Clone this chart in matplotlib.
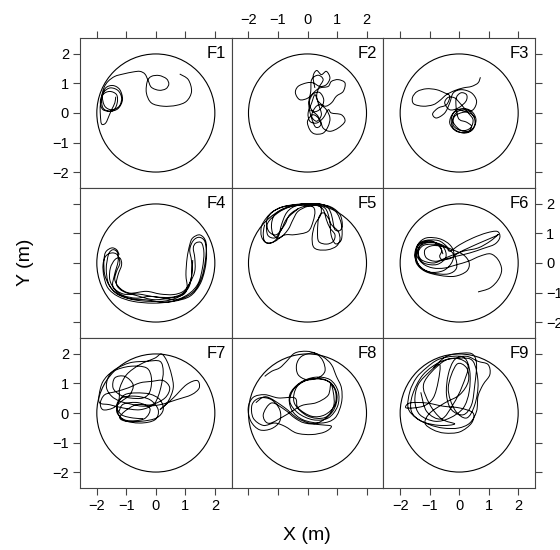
import matplotlib
matplotlib.use("Agg")
import matplotlib.pyplot as plt
from matplotlib.path import Path
from matplotlib.patches import PathPatch, Circle

plt.rcParams['font.family'] = ['Liberation Sans', 'DejaVu Sans']

# arena radius (m) and tick values
arena_r = 2.0
ticks = [-2, -1, 0, 1, 2]
panel_names = ['F1', 'F2', 'F3', 'F4', 'F5', 'F6', 'F7', 'F8', 'F9']

# trajectory waypoints (x, y) in metres
f1 = [(0.81, 1.32), (1.10, 1.13), (1.21, 0.73), (1.04, 0.40), (0.70, 0.26), (0.25, 0.23),
      (-0.15, 0.34), (-0.32, 0.68), (-0.29, 1.07), (-0.15, 1.24), (0.11, 1.27), (0.36, 1.16),
      (0.44, 0.98), (0.34, 0.82), (0.11, 0.77), (-0.15, 0.87), (-0.26, 1.10), (-0.37, 1.32),
      (-0.54, 1.41), (-0.77, 1.39), (-1.11, 1.32), (-1.39, 1.24), (-1.62, 1.07), (-1.76, 0.85),
      (-1.84, 0.51), (-1.79, 0.17), (-1.56, 0.06), (-1.28, 0.15), (-1.13, 0.45), (-1.22, 0.79),
      (-1.45, 0.93), (-1.70, 0.85), (-1.81, 0.56), (-1.73, 0.23), (-1.50, 0.11), (-1.24, 0.23),
      (-1.16, 0.51), (-1.28, 0.76), (-1.54, 0.85), (-1.76, 0.71), (-1.88, 0.40), (-1.79, 0.11),
      (-1.45, 0.08), (-1.31, 0.34), (-1.33, 0.62), (-1.56, 0.73), (-1.79, 0.62), (-1.88, 0.28),
      (-1.88, -0.06), (-1.84, -0.37), (-1.70, -0.34), (-1.58, -0.08), (-1.50, 0.11), (-1.39, 0.34),
      (-1.36, 0.55)]
f2 = [(0.25, 0.85), (0.19, 1.24), (0.31, 1.44), (0.47, 1.30), (0.64, 1.41), (0.76, 1.19),
      (0.64, 0.96), (0.42, 0.90), (0.19, 1.02), (-0.03, 1.02), (-0.32, 0.90), (-0.41, 0.68),
      (-0.26, 0.45), (0.02, 0.51), (0.25, 0.73), (0.42, 0.85), (0.70, 0.90), (0.81, 1.07),
      (1.04, 1.13), (1.27, 1.02), (1.21, 0.73), (0.98, 0.57), (0.81, 0.34), (0.59, 0.23),
      (0.36, 0.40), (0.25, 0.62), (0.14, 0.34), (0.02, 0.00), (0.08, -0.28), (0.31, -0.34),
      (0.53, -0.17), (0.70, 0.11), (0.81, 0.00), (1.15, -0.06), (1.27, -0.28), (1.04, -0.51),
      (0.76, -0.62), (0.53, -0.51), (0.42, -0.23), (0.19, -0.06), (0.00, -0.28), (0.08, -0.57),
      (0.25, -0.71), (0.53, -0.68), (0.70, -0.45), (0.76, -0.17), (0.64, 0.11), (0.42, 0.28),
      (0.25, 0.17), (0.14, -0.11), (0.31, -0.28), (0.47, -0.06), (0.38, 0.28), (0.31, 0.57),
      (0.38, 0.85), (0.53, 1.13), (0.36, 1.28), (0.14, 1.13), (0.11, 0.73), (0.05, 0.34),
      (0.20, 0.05), (0.45, 0.15), (0.55, 0.45), (0.40, 0.70), (0.15, 0.60), (0.05, 0.20),
      (0.25, -0.45), (0.45, -0.40), (0.35, -0.10), (0.10, 0.10)]
f3 = [(0.72, 1.21), (0.64, 1.02), (0.42, 0.90), (0.14, 0.85), (-0.15, 0.76), (-0.43, 0.62),
      (-0.66, 0.42), (-0.88, 0.28), (-1.22, 0.23), (-1.54, 0.31), (-1.58, 0.53), (-1.42, 0.73),
      (-1.11, 0.82), (-0.77, 0.79), (-0.49, 0.68), (-0.32, 0.57), (-0.43, 0.28), (-0.71, 0.17),
      (-0.90, -0.03), (-0.77, -0.17), (-0.49, 0.00), (-0.32, 0.34), (-0.20, 0.68), (0.08, 0.79),
      (0.42, 0.68), (0.59, 0.40), (0.47, 0.11), (0.19, 0.06), (-0.09, 0.11), (-0.26, -0.17),
      (-0.20, -0.51), (0.14, -0.68), (0.45, -0.57), (0.57, -0.23), (0.42, 0.06), (0.11, 0.15),
      (-0.20, 0.00), (-0.32, -0.34), (-0.09, -0.62), (0.31, -0.64), (0.53, -0.40), (0.47, -0.08),
      (0.19, 0.03), (-0.15, -0.11), (-0.20, -0.42), (0.08, -0.60), (0.38, -0.51), (0.47, -0.23),
      (0.31, 0.00), (0.02, 0.34), (-0.15, 0.51), (-0.37, 0.53), (-0.49, 0.34), (-0.32, 0.11),
      (-0.03, 0.17), (0.23, 0.40), (0.25, 0.62), (0.05, 0.68), (-0.11, 0.45), (-0.03, -0.17),
      (0.25, -0.31), (0.42, -0.45), (0.30, -0.62), (0.00, -0.55), (-0.22, -0.25), (-0.05, 0.05),
      (0.30, 0.10), (0.52, -0.15)]
f4 = [(-1.24, 0.28), (-1.33, 0.45), (-1.50, 0.51), (-1.70, 0.37), (-1.76, 0.06), (-1.73, -0.40),
      (-1.56, -0.79), (-1.28, -1.07), (-0.77, -1.24), (-0.20, -1.30), (0.36, -1.28), (0.81, -1.13),
      (1.10, -0.85), (1.21, -0.45), (1.21, 0.06), (1.15, 0.45), (1.27, 0.76), (1.47, 0.87),
      (1.66, 0.73), (1.72, 0.28), (1.66, -0.23), (1.49, -0.73), (1.15, -1.13), (0.59, -1.30),
      (-0.09, -1.36), (-0.77, -1.30), (-1.28, -1.13), (-1.62, -0.85), (-1.76, -0.45), (-1.79, -0.06),
      (-1.70, 0.23), (-1.50, 0.34), (-1.31, 0.28), (-1.22, 0.00), (-1.33, -0.28), (-1.39, -0.57),
      (-1.22, -0.85), (-0.88, -1.02), (-0.32, -0.96), (0.14, -1.05), (0.59, -1.07), (0.93, -0.96),
      (1.15, -0.68), (1.32, -0.28), (1.32, 0.17), (1.27, 0.51), (1.36, 0.68), (1.55, 0.68),
      (1.63, 0.34), (1.58, -0.17), (1.44, -0.68), (1.15, -1.02), (0.70, -1.24), (0.25, -1.19),
      (-0.20, -1.13), (-0.66, -1.19), (-1.11, -1.10), (-1.39, -0.90), (-1.56, -0.57), (-1.54, -0.17),
      (-1.39, 0.11), (-1.22, 0.17), (-1.16, -0.06), (-1.28, -0.40), (-1.33, -0.73), (-1.11, -0.96),
      (-0.66, -1.10), (-0.09, -1.24), (0.47, -1.19), (0.93, -1.07), (1.06, -0.82), (1.02, -0.40),
      (1.06, 0.17), (1.15, 0.62), (1.25, 0.85), (1.50, 0.95), (1.70, 0.70), (1.68, 0.10),
      (1.55, -0.50), (1.30, -0.95), (0.90, -1.20), (0.30, -1.33), (-0.30, -1.25), (-0.90, -1.20),
      (-1.35, -1.00), (-1.60, -0.70), (-1.68, -0.20), (-1.60, 0.30), (-1.45, 0.45), (-1.30, 0.35),
      (-1.28, 0.05), (-1.40, -0.40), (-1.45, -0.80), (-1.10, -1.05), (-0.60, -1.05), (0.00, -1.15),
      (0.60, -1.15), (1.00, -0.95), (1.20, -0.50), (1.25, 0.10)]
f5 = [(-1.45, 1.30), (-1.50, 1.02), (-1.45, 0.73), (-1.22, 0.68), (-0.99, 0.90), (-0.88, 1.30),
      (-0.71, 1.70), (-0.43, 1.92), (0.02, 2.00), (0.47, 1.98), (0.70, 1.86), (0.81, 1.64),
      (0.87, 1.36), (0.93, 1.13), (1.10, 1.10), (1.18, 1.30), (1.10, 1.64), (0.81, 1.89),
      (0.36, 2.00), (-0.20, 2.00), (-0.77, 1.92), (-1.16, 1.75), (-1.39, 1.53), (-1.56, 1.24),
      (-1.56, 0.90), (-1.39, 0.68), (-1.11, 0.73), (-0.88, 0.90), (-0.71, 0.96), (-0.43, 0.96),
      (0.02, 1.07), (0.19, 1.41), (0.25, 1.75), (0.14, 1.92), (-0.32, 1.95), (-0.77, 1.86),
      (-1.11, 1.64), (-1.22, 1.30), (-1.16, 0.96), (-0.94, 0.85), (-0.66, 1.13), (-0.49, 1.47),
      (-0.32, 1.75), (0.02, 1.92), (0.42, 1.92), (0.45, 1.64), (0.25, 1.30), (0.16, 0.90),
      (0.19, 0.57), (0.36, 0.45), (0.70, 0.45), (0.98, 0.57), (1.10, 0.79), (1.04, 1.07),
      (0.81, 1.30), (0.70, 1.53), (0.53, 1.70), (0.38, 1.53), (0.34, 1.07), (0.38, 0.73),
      (0.64, 0.64), (0.87, 0.73), (0.93, 0.96), (0.76, 1.19), (0.64, 1.47), (0.53, 1.81),
      (0.25, 1.98), (-0.32, 1.98), (-0.88, 1.89), (-1.22, 1.70), (-1.39, 1.41), (-1.31, 1.07),
      (-1.05, 0.96), (-0.77, 1.30), (-0.60, 1.64), (-0.20, 1.89), (0.25, 1.95), (0.60, 1.85),
      (0.75, 1.45), (0.80, 0.95), (0.95, 0.65), (1.15, 0.80), (1.15, 1.30), (0.95, 1.75),
      (0.50, 1.98), (-0.10, 2.00), (-0.60, 1.90), (-1.00, 1.70), (-1.35, 1.35), (-1.35, 0.95),
      (-1.10, 0.85), (-0.90, 1.10), (-0.70, 1.50), (-0.30, 1.85)]
f6 = [(0.64, -0.98), (1.04, -0.85), (1.32, -0.57), (1.44, -0.23), (1.32, 0.11), (1.06, 0.31),
      (0.70, 0.23), (0.31, 0.06), (-0.09, -0.06), (-0.49, -0.17), (-0.88, -0.17), (-1.22, -0.03),
      (-1.45, 0.28), (-1.39, 0.64), (-1.11, 0.85), (-0.66, 0.82), (-0.32, 0.62), (-0.18, 0.34),
      (-0.26, 0.00), (-0.54, -0.26), (-0.99, -0.31), (-1.33, -0.11), (-1.50, 0.23), (-1.42, 0.59),
      (-1.16, 0.76), (-0.71, 0.76), (-0.43, 0.57), (-0.32, 0.40), (0.02, 0.62), (0.47, 0.85),
      (0.93, 1.02), (1.29, 1.07), (1.38, 0.87), (1.21, 0.64), (0.81, 0.49), (0.36, 0.34),
      (-0.09, 0.23), (-0.54, 0.11), (-0.88, 0.00), (-1.28, 0.11), (-1.39, 0.40), (-1.22, 0.68),
      (-0.77, 0.68), (-0.32, 0.49), (0.14, 0.28), (0.34, 0.00), (0.25, -0.28), (-0.15, -0.45),
      (-0.66, -0.42), (-1.16, -0.28), (-1.45, 0.00), (-1.47, 0.40), (-1.28, 0.68), (-0.88, 0.73),
      (-0.60, 0.45), (-0.66, 0.23), (-0.56, 0.11), (-0.26, 0.17), (-0.03, 0.34), (0.36, 0.53),
      (0.81, 0.73), (1.21, 0.90), (1.32, 0.96), (1.04, 0.73), (0.64, 0.51), (0.14, 0.40),
      (-0.32, 0.23), (-0.77, 0.06), (-1.11, 0.17), (-1.16, 0.45), (-0.88, 0.59), (-0.43, 0.51),
      (-0.15, 0.23), (-0.09, -0.17), (-0.37, -0.37), (-0.88, -0.34), (-1.28, -0.17), (-1.45, 0.15),
      (-1.35, 0.55), (-0.95, 0.70), (-0.55, 0.55), (-0.45, 0.20), (-0.75, -0.05), (-1.20, 0.00),
      (-1.40, 0.30), (-1.20, 0.60), (-0.70, 0.60), (-0.55, 0.30)]
f7 = [(-0.43, -0.19), (-0.77, -0.17), (-1.16, -0.06), (-1.33, 0.23), (-1.16, 0.51), (-0.71, 0.57),
      (-0.20, 0.45), (0.08, 0.11), (-0.03, -0.23), (-0.54, -0.34), (-1.11, -0.23), (-1.31, 0.11),
      (-1.24, 0.51), (-1.22, 0.85), (-0.99, 1.30), (-0.54, 1.64), (-0.03, 1.86), (0.19, 2.00),
      (0.38, 1.75), (0.53, 1.30), (0.59, 0.85), (0.42, 0.40), (0.14, 0.11), (0.59, 0.51),
      (1.04, 0.96), (1.40, 1.10), (1.47, 0.85), (1.21, 0.62), (0.70, 0.45), (0.14, 0.28),
      (-0.43, 0.23), (-0.88, 0.31), (-1.22, 0.40), (-1.50, 0.57), (-1.67, 0.85), (-1.62, 1.19),
      (-1.39, 1.47), (-0.88, 1.70), (-0.32, 1.75), (0.14, 1.75), (0.25, 1.41), (0.19, 0.96),
      (0.08, 0.57), (-0.09, 0.28), (-0.54, 0.11), (-1.11, 0.17), (-1.56, 0.28), (-1.90, 0.34),
      (-1.92, 0.62), (-1.79, 1.07), (-1.45, 1.41), (-0.88, 1.58), (-0.32, 1.53), (-0.15, 1.19),
      (-0.20, 0.73), (-0.43, 0.51), (-0.88, 0.51), (-1.22, 0.62), (-1.45, 0.85), (-1.39, 1.19),
      (-1.05, 1.24), (-0.77, 0.96), (-0.88, 0.62), (-1.16, 0.40), (-1.45, 0.17), (-1.79, 0.11),
      (-1.88, 0.34), (-1.73, 0.62), (-1.33, 0.73), (-0.94, 0.85), (-0.54, 1.02), (-0.15, 1.07),
      (0.25, 1.10), (0.47, 0.85), (0.31, 0.51), (-0.15, 0.28), (-0.66, 0.28), (-1.05, 0.06),
      (-1.22, -0.17), (-0.99, -0.28), (-0.49, -0.28), (0.02, -0.17), (0.25, 0.11), (0.14, 0.45),
      (-0.20, 0.64), (-0.66, 0.68), (-1.05, 0.62), (-1.28, 0.34), (-1.31, 0.00), (-1.00, -0.25),
      (-0.40, -0.20), (-0.20, 0.15), (-0.60, 0.35), (-1.10, 0.30), (-1.25, 0.05)]
f8 = [(-1.45, 1.24), (-1.22, 1.41), (-0.94, 1.53), (-0.71, 1.75), (-0.43, 2.03), (-0.03, 2.09),
      (0.31, 2.00), (0.53, 1.75), (0.59, 1.41), (0.36, 1.19), (-0.03, 1.13), (-0.32, 1.30),
      (-0.37, 1.64), (-0.20, 1.92), (0.19, 2.03), (0.53, 1.90), (0.81, 1.64), (0.98, 1.24),
      (1.15, 0.85), (1.15, 0.34), (0.93, -0.17), (0.47, -0.34), (-0.15, -0.23), (-0.54, 0.11),
      (-0.60, 0.62), (-0.26, 1.02), (0.25, 1.21), (0.76, 1.13), (1.04, 0.73), (1.02, 0.23),
      (0.70, -0.17), (0.19, -0.23), (-0.32, 0.00), (-0.60, 0.40), (-0.43, 0.85), (0.02, 1.13),
      (0.59, 1.13), (0.93, 0.79), (0.93, 0.28), (0.59, -0.06), (0.14, -0.11), (-0.32, 0.17),
      (-0.43, 0.51), (-0.99, 0.51), (-1.45, 0.62), (-1.84, 0.53), (-2.01, 0.17), (-1.92, -0.28),
      (-1.62, -0.57), (-1.22, -0.53), (-0.94, -0.28), (-0.94, 0.11), (-1.22, 0.45), (-1.62, 0.51),
      (-1.88, 0.28), (-1.84, -0.17), (-1.50, -0.42), (-1.11, -0.34), (-0.77, -0.45), (-0.37, -0.68),
      (0.14, -0.73), (0.59, -0.64), (0.81, -0.45), (0.47, -0.40), (-0.09, -0.34), (-0.43, -0.17),
      (-0.77, 0.11), (-1.22, 0.34), (-1.50, -0.06), (-1.30, -0.35), (-0.70, -0.05), (-0.20, 0.25),
      (0.30, 0.35), (0.70, 0.60), (0.80, 1.00), (0.90, 0.30), (0.60, -0.15), (0.00, -0.10),
      (-0.45, 0.35), (-0.35, 0.90), (0.15, 1.15), (0.75, 1.05), (1.00, 0.60), (0.85, 0.05),
      (0.30, -0.35), (-0.30, -0.20), (-0.80, 0.20), (-1.40, 0.55), (-1.75, 0.35)]
f9 = [(-0.88, 1.53), (-0.43, 1.92), (0.14, 2.03), (0.47, 1.98), (0.59, 1.64), (0.53, 0.96),
      (0.42, 0.28), (0.14, -0.06), (-0.26, 0.11), (-0.43, 0.62), (-0.37, 1.30), (-0.15, 1.81),
      (0.25, 1.92), (0.64, 1.75), (0.98, 1.64), (1.04, 1.30), (0.81, 0.96), (0.64, 0.57),
      (0.59, 0.06), (0.36, -0.34), (-0.03, -0.51), (-0.54, -0.51), (-0.99, -0.40), (-1.45, -0.17),
      (-1.73, 0.17), (-1.67, 0.73), (-1.45, 1.19), (-1.11, 1.53), (-0.71, 1.81), (-0.20, 1.92),
      (0.19, 1.86), (0.36, 1.41), (0.34, 0.73), (0.14, 0.17), (-0.32, -0.17), (-0.82, -0.28),
      (-1.33, -0.06), (-1.50, 0.40), (-1.39, 0.96), (-0.99, 1.41), (-0.66, 1.64), (-0.71, 1.07),
      (-0.88, 0.51), (-1.22, 0.23), (-1.79, 0.17), (-1.67, 0.34), (-1.11, 0.34), (-0.54, 0.23),
      (0.02, 0.17), (0.47, 0.00), (0.42, -0.34), (0.02, -0.64), (-0.49, -0.68), (-0.88, -0.57),
      (-1.16, -0.34), (-0.99, 0.00), (-0.49, 0.34), (0.02, 0.62), (0.31, 1.07), (0.25, 1.53),
      (-0.09, 1.64), (-0.37, 0.85), (-0.15, 0.11), (0.25, -0.17), (0.53, 0.28), (0.64, 1.02),
      (0.47, 1.75), (0.02, 1.86), (-0.60, 1.75), (-1.22, 1.30), (-1.58, 0.62), (-1.62, 0.06),
      (-1.28, -0.28), (-0.66, -0.42), (-0.15, -0.37), (-0.60, -0.20), (-1.00, 0.30), (-1.20, 1.00),
      (-0.60, 1.70), (-0.10, 1.85), (0.30, 1.60), (0.10, 0.90), (-0.20, 0.30), (-0.60, -0.20),
      (-1.10, 0.05), (-1.30, 0.70)]
tracks = [f1, f2, f3, f4, f5, f6, f7, f8, f9]


def smooth_track(pts):
    # cubic curve passing through every waypoint (Catmull-Rom style handles)
    verts = [pts[0]]
    codes = [Path.MOVETO]
    n = len(pts)
    for i in range(n - 1):
        p0 = pts[max(i - 1, 0)]
        p1 = pts[i]
        p2 = pts[i + 1]
        p3 = pts[min(i + 2, n - 1)]
        c1 = (p1[0] + (p2[0] - p0[0]) / 6, p1[1] + (p2[1] - p0[1]) / 6)
        c2 = (p2[0] - (p3[0] - p1[0]) / 6, p2[1] - (p3[1] - p1[1]) / 6)
        verts += [c1, c2, p2]
        codes += [Path.CURVE4, Path.CURVE4, Path.CURVE4]
    return Path(verts, codes)


fig = plt.figure(figsize=(5.6, 5.5), dpi=100)
gs = fig.add_gridspec(3, 3, left=80 / 560, right=535 / 560, top=1 - 38 / 550,
                      bottom=1 - 488 / 550, wspace=0, hspace=0)

frame_col = '#444444'
for k in range(9):
    r, c = divmod(k, 3)
    ax = fig.add_subplot(gs[r, c])
    ax.set_xlim(-2.57, 2.57)
    ax.set_ylim(-2.54, 2.54)
    ax.add_patch(Circle((0, 0), arena_r, fill=False, ec='black', lw=0.8))
    ax.add_patch(PathPatch(smooth_track(tracks[k]), fc='none', ec='black', lw=0.7))
    ax.text(0.96, 0.95, panel_names[k], transform=ax.transAxes, ha='right', va='top',
            fontsize=12)
    for s in ax.spines.values():
        s.set_color(frame_col)
        s.set_linewidth(0.8)
    ax.set_xticks(ticks)
    ax.set_yticks(ticks)
    ax.tick_params(direction='out', length=5, width=0.8, color=frame_col,
                   labelsize=10.5, pad=3,
                   left=(c == 0), right=(c == 2), top=(r == 0), bottom=(r == 2),
                   labelleft=(c == 0 and r != 1), labelright=(c == 2 and r == 1),
                   labeltop=(r == 0 and c == 1), labelbottom=(r == 2 and c != 1))

fig.text(307 / 560, 1 - 535 / 550, 'X (m)', ha='center', va='center', fontsize=14)
fig.text(25 / 560, 1 - 262 / 550, 'Y (m)', ha='center', va='center', fontsize=14,
         rotation=90)

fig.savefig('out.png', dpi=100)
